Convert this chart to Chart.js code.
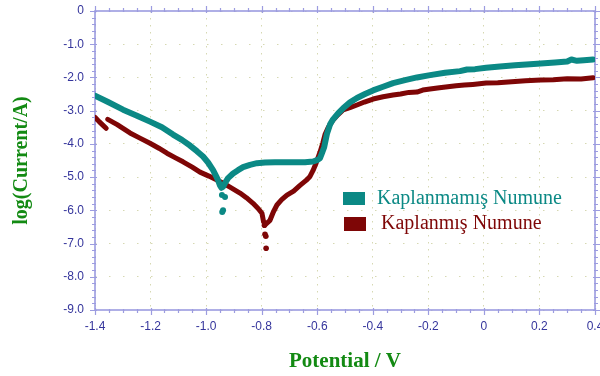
<!DOCTYPE html>
<html>
<head>
<meta charset="utf-8">
<script src="https://cdn.jsdelivr.net/npm/chart.js@4.4.1/dist/chart.umd.min.js"></script>
<style>
  html, body { margin: 0; padding: 0; background: #ffffff; }
  #wrap { width: 600px; height: 376px; }
</style>
</head>
<body>
<div id="wrap"><canvas id="c" width="600" height="376"></canvas></div>
<script>
// Tafel polarisation curves: potential (V) vs log(current / A)
const seriesNames = ['Kaplanmamış Numune', 'Kaplanmış Numune'];
const seriesColors = ['#0b8985', '#7e0606'];

// Uncoated sample
const uncoatedV = [-1.400, -1.353, -1.299, -1.249, -1.202, -1.159, -1.119, -1.087, -1.058, -1.033,
  -1.011, -0.993, -0.975, -0.964, -0.957, -0.950, -0.945, -0.938, -0.930, -0.921,
  -0.903, -0.885, -0.867, -0.842, -0.817, -0.788, -0.752, -0.723, -0.680, -0.644,
  -0.615, -0.601, -0.590, -0.583, -0.575, -0.565, -0.554, -0.543, -0.525, -0.507,
  -0.482, -0.457, -0.428, -0.399, -0.363, -0.327, -0.284, -0.241, -0.194, -0.140,
  -0.086, -0.061, -0.032, 0.008, 0.058, 0.112, 0.166, 0.205, 0.256, 0.300,
  0.315, 0.335, 0.360, 0.393];
const uncoatedLog = [-2.55, -2.74, -2.97, -3.15, -3.33, -3.50, -3.72, -3.88, -4.05, -4.22,
  -4.38, -4.56, -4.79, -4.97, -5.09, -5.25, -5.32, -5.28, -5.15, -5.03,
  -4.89, -4.79, -4.70, -4.63, -4.58, -4.56, -4.55, -4.55, -4.55, -4.55,
  -4.53, -4.49, -4.43, -4.28, -4.10, -3.70, -3.42, -3.26, -3.08, -2.93,
  -2.75, -2.62, -2.50, -2.39, -2.28, -2.17, -2.08, -2.00, -1.93, -1.86,
  -1.81, -1.76, -1.75, -1.71, -1.67, -1.63, -1.60, -1.58, -1.55, -1.52,
  -1.46, -1.50, -1.48, -1.46];

// Coated sample (null = break in the record)
const coatedV = [-1.400, -1.385, -1.370, -1.360, -1.358, -1.354, -1.320, -1.274, -1.240, -1.202,
  -1.170, -1.141, -1.110, -1.083, -1.050, -1.022, -0.990, -0.961, -0.935, -0.914,
  -0.878, -0.855, -0.831, -0.812, -0.799, -0.793, -0.786, -0.770, -0.758, -0.745,
  -0.728, -0.709, -0.685, -0.662, -0.640, -0.626, -0.615, -0.605, -0.590, -0.580,
  -0.572, -0.560, -0.543, -0.525, -0.507, -0.480, -0.457, -0.430, -0.399, -0.363,
  -0.327, -0.300, -0.270, -0.241, -0.220, -0.194, -0.160, -0.130, -0.100, -0.070,
  -0.040, 0.008, 0.050, 0.100, 0.150, 0.205, 0.250, 0.300, 0.350, 0.393];
const coatedLog = [-3.20, -3.33, -3.45, -3.53, null, -3.26, -3.42, -3.67, -3.82, -3.98,
  -4.13, -4.28, -4.42, -4.54, -4.70, -4.85, -4.97, -5.09, -5.20, -5.30,
  -5.48, -5.62, -5.79, -5.95, -6.09, -6.35, -6.42, -6.30, -6.05, -5.84,
  -5.68, -5.54, -5.42, -5.25, -5.10, -4.98, -4.80, -4.60, -4.25, -3.98,
  -3.72, -3.50, -3.28, -3.12, -2.98, -2.90, -2.83, -2.74, -2.65, -2.58,
  -2.53, -2.50, -2.45, -2.44, -2.38, -2.35, -2.31, -2.28, -2.25, -2.23,
  -2.21, -2.17, -2.16, -2.13, -2.10, -2.08, -2.07, -2.04, -2.05, -2.01];

// Isolated readings near the corrosion potentials
const uncoatedDotsV = [-0.943, -0.932, -0.939, -0.942];
const uncoatedDotsLog = [-5.54, -5.60, -6.00, -6.05];
const coatedDotsV = [-0.788, -0.785, -0.784, -0.790];
const coatedDotsLog = [-6.72, -6.78, -7.14, -6.45];

// Axis ranges and labels
const xMin = -1.4, xMax = 0.4, xStep = 0.2;
const yMin = -9, yMax = 0, yStep = 1;
const xTitle = 'Potential / V';
const yTitle = 'log(Current/A)';

const toPoints = (xs, ys) => xs.map((x, i) => ({ x: x, y: ys[i] }));
const fmt = v => (Math.abs(v) < 1e-9 ? '0' : v.toFixed(1));

const axisColor = '#9c9ce0';
const tickTextColor = '#35359c';
const titleGreen = '#138a13';

// Box frame with major and minor ticks on all four sides
const framePlugin = {
  id: 'frame',
  beforeDatasetsDraw(chart) {
    const { ctx, chartArea: a, scales: { x, y } } = chart;
    ctx.save();
    ctx.strokeStyle = axisColor;
    ctx.lineWidth = 1.6;
    ctx.strokeRect(a.left, a.top, a.right - a.left, a.bottom - a.top);
    ctx.lineWidth = 1.2;
    ctx.beginPath();
    const nx = Math.round((xMax - xMin) / 0.05);
    for (let i = 0; i <= nx; i++) {
      const px = Math.round(x.getPixelForValue(xMin + i * 0.05)) + 0.5;
      const major = i % 4 === 0;
      const out = major ? 5 : 3, inn = major ? 2 : 1;
      ctx.moveTo(px, a.bottom - inn); ctx.lineTo(px, a.bottom + out);
      ctx.moveTo(px, a.top - out); ctx.lineTo(px, a.top + inn);
    }
    const ny = Math.round((yMax - yMin) / 0.2);
    for (let j = 0; j <= ny; j++) {
      const py = Math.round(y.getPixelForValue(yMin + j * 0.2)) + 0.5;
      const major = j % 5 === 0;
      const out = major ? 5 : 3, inn = major ? 2 : 1;
      ctx.moveTo(a.left - out, py); ctx.lineTo(a.left + inn, py);
      ctx.moveTo(a.right - inn, py); ctx.lineTo(a.right + out, py);
    }
    ctx.stroke();
    ctx.restore();
  }
};

// Legend drawn inside the plot, text tinted with each series colour
const insideLegend = {
  id: 'insideLegend',
  afterDatasetsDraw(chart) {
    const { ctx } = chart;
    const rows = [
      { box: [343, 192, 22, 13], tx: 377, ty: 199 },
      { box: [344, 217, 22, 14], tx: 381, ty: 224 }
    ];
    ctx.save();
    ctx.font = '20px "Liberation Serif", "Times New Roman", serif';
    ctx.textBaseline = 'middle';
    ctx.textAlign = 'left';
    rows.forEach((r, i) => {
      const ds = chart.data.datasets[i];
      ctx.fillStyle = ds.borderColor;
      ctx.fillRect(r.box[0], r.box[1], r.box[2], r.box[3]);
      ctx.fillText(ds.label, r.tx, r.ty);
    });
    ctx.restore();
  }
};

new Chart(document.getElementById('c'), {
  type: 'line',
  data: {
    datasets: [
      {
        label: seriesNames[0],
        data: toPoints(uncoatedV, uncoatedLog),
        borderColor: seriesColors[0],
        backgroundColor: seriesColors[0],
        borderWidth: 6,
        pointRadius: 0,
        tension: 0,
        borderCapStyle: 'round',
        borderJoinStyle: 'round'
      },
      {
        label: seriesNames[1],
        data: toPoints(coatedV, coatedLog),
        borderColor: seriesColors[1],
        backgroundColor: seriesColors[1],
        borderWidth: 5,
        pointRadius: 0,
        tension: 0,
        spanGaps: false,
        borderCapStyle: 'round',
        borderJoinStyle: 'round'
      },
      {
        label: seriesNames[0] + ' (nokta)',
        data: toPoints(uncoatedDotsV, uncoatedDotsLog),
        showLine: false,
        borderColor: seriesColors[0],
        backgroundColor: seriesColors[0],
        pointRadius: 3,
        pointBorderWidth: 0
      },
      {
        label: seriesNames[1] + ' (nokta)',
        data: toPoints(coatedDotsV, coatedDotsLog),
        showLine: false,
        borderColor: seriesColors[1],
        backgroundColor: seriesColors[1],
        pointRadius: 2.8,
        pointBorderWidth: 0
      }
    ]
  },
  options: {
    responsive: false,
    animation: false,
    devicePixelRatio: 1,
    layout: { padding: { top: 11, right: 5, left: 0, bottom: 0 } },
    plugins: {
      legend: { display: false },
      tooltip: { enabled: false }
    },
    scales: {
      x: {
        type: 'linear',
        position: 'bottom',
        min: xMin,
        max: xMax,
        afterFit(s) { s.height = 66; s.paddingLeft = 0; s.paddingRight = 0; },
        ticks: {
          stepSize: xStep,
          autoSkip: false,
          maxRotation: 0,
          padding: 9,
          color: tickTextColor,
          font: { family: '"Liberation Sans", Arial, sans-serif', size: 12 },
          callback: v => fmt(v)
        },
        grid: { color: '#d6d8b2', lineWidth: 1, drawTicks: false },
        border: { display: false, dash: [1.5, 5.5] },
        title: {
          display: true,
          text: xTitle,
          color: titleGreen,
          font: { family: '"Liberation Serif", "Times New Roman", serif', size: 21, weight: 'bold' },
          padding: { top: 0, bottom: 2 }
        }
      },
      y: {
        type: 'linear',
        min: yMin,
        max: yMax,
        afterFit(s) { s.width = 95; s.paddingTop = 0; s.paddingBottom = 0; },
        ticks: {
          stepSize: yStep,
          padding: 11,
          color: tickTextColor,
          font: { family: '"Liberation Sans", Arial, sans-serif', size: 12 },
          callback: v => fmt(v)
        },
        grid: { color: '#d6d8b2', lineWidth: 1, drawTicks: false },
        border: { display: false, dash: [1.5, 12.5] },
        title: {
          display: true,
          text: yTitle,
          color: titleGreen,
          font: { family: '"Liberation Serif", "Times New Roman", serif', size: 20, weight: 'bold' },
          padding: { top: 10, bottom: 0 }
        }
      }
    }
  },
  plugins: [framePlugin, insideLegend]
});
</script>
</body>
</html>
